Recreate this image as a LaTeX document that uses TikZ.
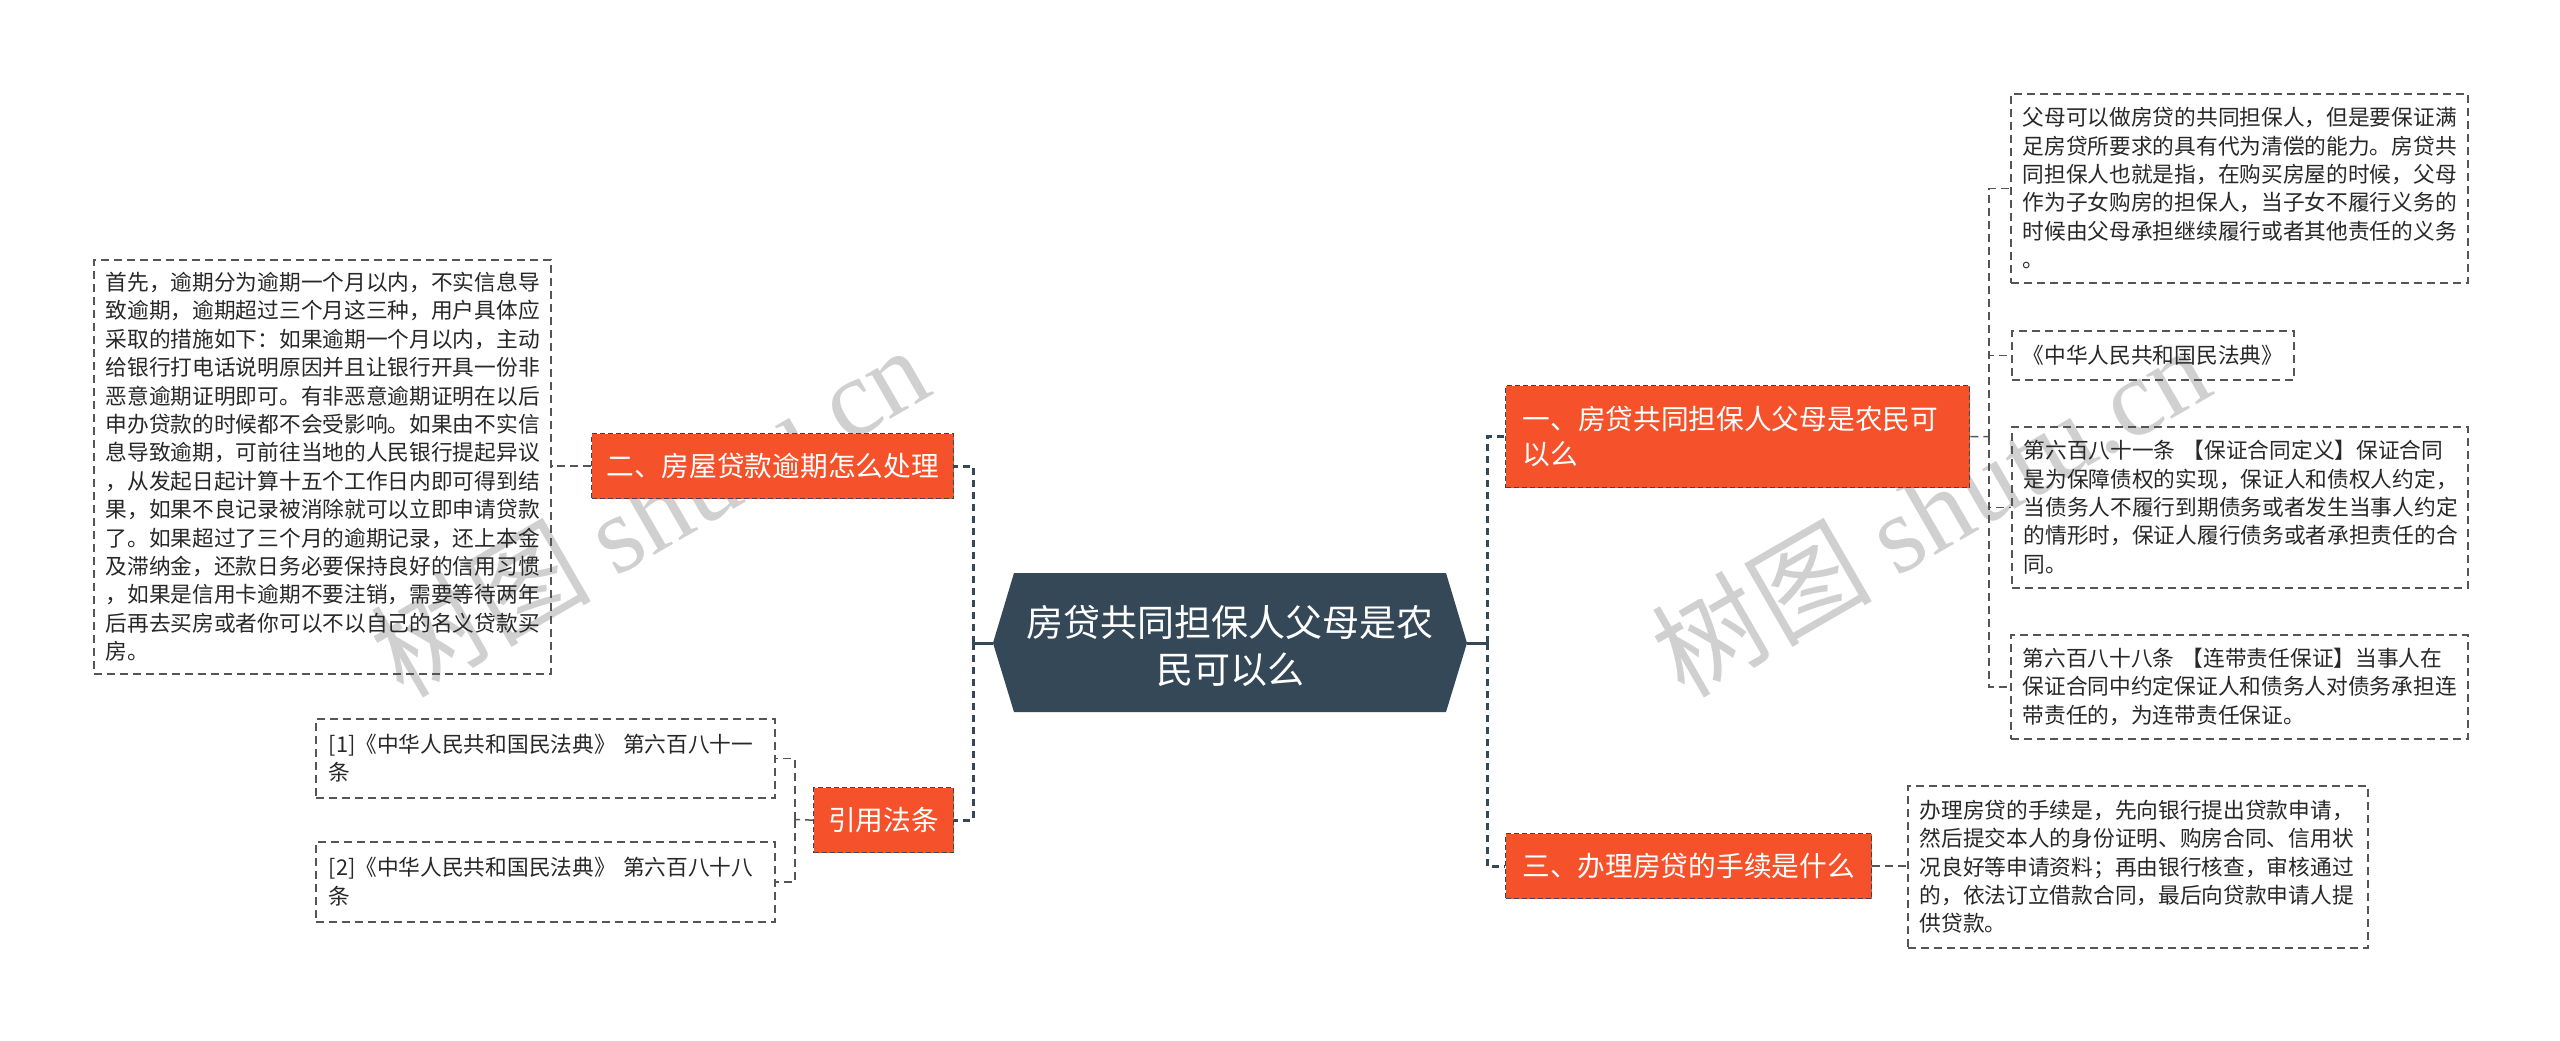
\documentclass[tikz,border=0pt]{standalone}
\usepackage{fontspec}
\setmainfont{Noto Sans CJK SC}
\newfontfamily\wmserif{Liberation Serif}
\newfontfamily\wmcjk{Noto Sans CJK SC}
\definecolor{hexfill}{RGB}{53,72,88}
\definecolor{branchfill}{RGB}{245,81,43}
\definecolor{leafline}{RGB}{85,85,85}
\definecolor{leaftext}{RGB}{40,40,40}
\definecolor{wmgray}{RGB}{208,208,208}
\begin{document}
\begin{tikzpicture}[x=1pt,y=-1pt,
  leafbox/.style={draw=leafline, line width=1.5pt, dash pattern=on 8pt off 5pt, text=leaftext,
    font=\fontsize{21.7}{28.4}\selectfont, align=left, inner sep=0pt, anchor=north west},
  branchbox/.style={fill=branchfill, draw=hexfill, line width=1.3pt, dash pattern=on 5pt off 3pt,
    text=white, font=\fontsize{27.7}{35}\selectfont, inner sep=0pt, anchor=north west},
  centertext/.style={text=white, font=\fontsize{37}{47}\selectfont, align=center, inner sep=0pt},
  trunk/.style={draw=hexfill, line width=3pt, dash pattern=on 7pt off 5pt},
  trunksolid/.style={draw=hexfill, line width=3pt},
  twig/.style={draw=leafline, line width=1.5pt, dash pattern=on 8pt off 5pt},
  wmark/.style={text=wmgray, font=\fontsize{110}{110}\selectfont, rotate=30, inner sep=0pt}]
\useasboundingbox (0,0) rectangle (2560,1041);
\fill[white] (0,0) rectangle (2560,1041);

% watermarks
\node[wmark] (wm1) at (649,510) {\wmcjk 树图 \wmserif shutu.cn};
\node[wmark] (wm2) at (1930,510) {\wmcjk 树图 \wmserif shutu.cn};

% centre
\fill[hexfill] (993,643) -- (1014,573) -- (1446,573) -- (1467,643) -- (1446,712) -- (1014,712) -- cycle;
\coordinate (cL) at (993,643);
\coordinate (cR) at (1467,643);
\node[centertext] (c) at (1230,646) {房贷共同担保人父母是农\\民可以么};

% left side
\node[branchbox, minimum width=362pt, minimum height=65pt, align=center] (b2) at (591,433) {二、房屋贷款逾期怎么处理};
\node[branchbox, minimum width=140pt, minimum height=65pt, align=center] (b4) at (813,787) {引用法条};

\node[leafbox, minimum width=457pt, minimum height=414pt, text width=433pt] (lb) at (93,259) {首先，逾期分为逾期一个月以内，不实信息导\\
致逾期，逾期超过三个月这三种，用户具体应\\
采取的措施如下：如果逾期一个月以内，主动\\
给银行打电话说明原因并且让银行开具一份非\\
恶意逾期证明即可。有非恶意逾期证明在以后\\
申办贷款的时候都不会受影响。如果由不实信\\
息导致逾期，可前往当地的人民银行提起异议\\
，从发起日起计算十五个工作日内即可得到结\\
果，如果不良记录被消除就可以立即申请贷款\\
了。如果超过了三个月的逾期记录，还上本金\\
及滞纳金，还款日务必要保持良好的信用习惯\\
，如果是信用卡逾期不要注销，需要等待两年\\
后再去买房或者你可以不以自己的名义贷款买\\
房。};

\node[leafbox, minimum width=459pt, minimum height=79pt, text width=433pt] (r1) at (315,718) {[1]《中华人民共和国民法典》 第六百八十一\\条};
\node[leafbox, minimum width=459pt, minimum height=80pt, text width=433pt] (r2) at (315,841) {[2]《中华人民共和国民法典》 第六百八十八\\条};

% right side
\node[branchbox, minimum width=464pt, minimum height=102pt, text width=430pt, align=left] (b1) at (1505,385) {一、房贷共同担保人父母是农民可\\以么};
\node[branchbox, minimum width=366pt, minimum height=65pt, align=center] (b3) at (1505,833) {三、办理房贷的手续是什么};

\node[leafbox, minimum width=457pt, minimum height=189pt, text width=433pt] (l1) at (2010,93) {父母可以做房贷的共同担保人，但是要保证满\\
足房贷所要求的具有代为清偿的能力。房贷共\\
同担保人也就是指，在购买房屋的时候，父母\\
作为子女购房的担保人，当子女不履行义务的\\
时候由父母承担继续履行或者其他责任的义务\\
。};
\node[leafbox, minimum width=282pt, minimum height=49pt, text width=260pt] (l2) at (2011,330) {《中华人民共和国民法典》};
\node[leafbox, minimum width=456pt, minimum height=161pt, text width=432pt] (l3) at (2011,426) {第六百八十一条 【保证合同定义】保证合同\\
是为保障债权的实现，保证人和债权人约定，\\
当债务人不履行到期债务或者发生当事人约定\\
的情形时，保证人履行债务或者承担责任的合\\
同。};
\node[leafbox, minimum width=457pt, minimum height=104pt, text width=433pt] (l4) at (2010,634) {第六百八十八条 【连带责任保证】当事人在\\
保证合同中约定保证人和债务人对债务承担连\\
带责任的，为连带责任保证。};
\node[leafbox, minimum width=460pt, minimum height=162pt, text width=436pt] (l5) at (1907,785) {办理房贷的手续是，先向银行提出贷款申请，\\
然后提交本人的身份证明、购房合同、信用状\\
况良好等申请资料；再由银行核查，审核通过\\
的，依法订立借款合同，最后向贷款申请人提\\
供贷款。};

% trunk connectors
\coordinate (jL) at (973,643);
\coordinate (jR) at (1487,643);
\draw[trunksolid] (cL) -- (jL);
\draw[trunksolid] (cR) -- (jR);
\draw[trunk] (jL) |- (b2.east);
\draw[trunk] (jL) |- (b4.east);
\draw[trunk] (jR) |- (b1.west);
\draw[trunk] (jR) |- (b3.west);

% twig connectors
\draw[twig] (b2.west) -- (b2.west -| lb.east);
\coordinate (j4) at (795,819.5);
\draw[twig] (b4.west) -- (j4);
\draw[twig] (j4) |- (r1.east);
\draw[twig] (j4) |- (r2.east);
\coordinate (j1) at (1989,436.5);
\draw[twig] (b1.east) -- (j1);
\draw[twig] (j1) |- (l1.west);
\draw[twig] (j1) |- (l2.west);
\draw[twig] (j1) |- (l3.west);
\draw[twig] (j1) |- (l4.west);
\draw[twig] (b3.east) -- (b3.east -| l5.west);
\end{tikzpicture}
\end{document}
